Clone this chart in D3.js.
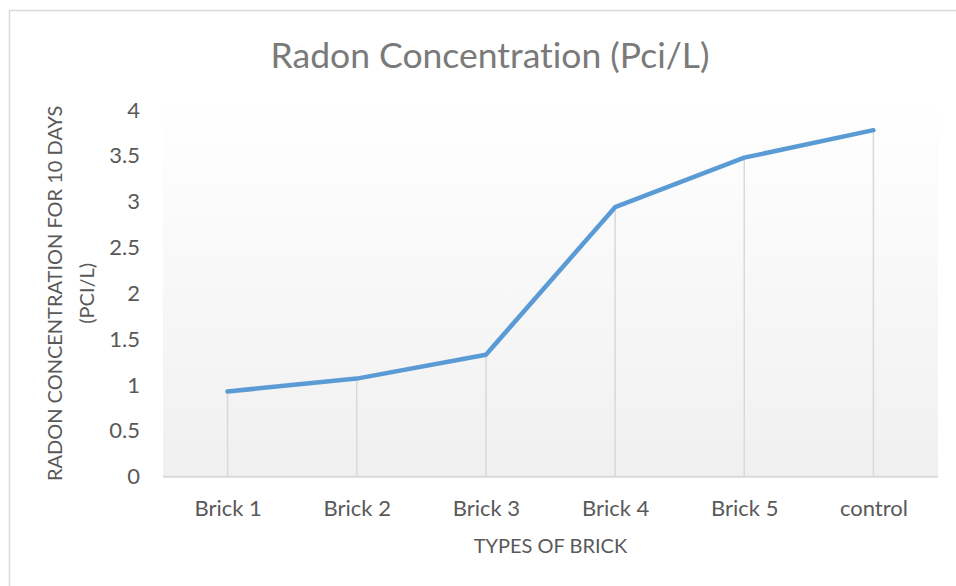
<html>
<head>
    <script src="https://d3js.org/d3.v7.min.js" charset="utf-8"></script>
    <style>
        body { margin: 0; background: #fff; }
        text { font-family: Lato, "Open Sans", sans-serif; font-variant-ligatures: none; }
    </style>
</head>

<body>
    <script type="text/javascript">
        var width = 956;
        var height = 586;

        // chart values
        var categories = ["Brick 1", "Brick 2", "Brick 3", "Brick 4", "Brick 5", "control"];
        var radonValues = [0.93, 1.07, 1.33, 2.94, 3.48, 3.78];
        var yTickValues = [0, 0.5, 1, 1.5, 2, 2.5, 3, 3.5, 4];

        var chartTitle = "Radon Concentration (Pci/L)";
        var xTitle = "TYPES OF BRICK";
        var yTitleLines = ["RADON CONCENTRATION FOR 10 DAYS", "(PCI/L)"];

        var plot = { left: 163, right: 938, top: 100, bottom: 477 };

        const svg = d3.select("body").append("svg")
            .attr("width", width)
            .attr("height", height);

        // plot area gradient
        var defs = svg.append("defs");
        var grad = defs.append("linearGradient")
            .attr("id", "plotGrad")
            .attr("x1", 0).attr("y1", 0)
            .attr("x2", 0).attr("y2", 1);
        grad.append("stop").attr("offset", "0%").attr("stop-color", "#ffffff");
        grad.append("stop").attr("offset", "100%").attr("stop-color", "#f0f0f0");

        // outer chart border (runs off the right and bottom edge)
        svg.append("rect")
            .attr("x", 9.5)
            .attr("y", 10.5)
            .attr("width", 1000)
            .attr("height", 700)
            .attr("fill", "#fff")
            .attr("stroke", "#d9d9d9")
            .attr("stroke-width", 1.5);

        var xScale = d3.scalePoint()
            .domain(categories)
            .range([plot.left, plot.right])
            .padding(0.5);

        var yScale = d3.scaleLinear()
            .domain([0, 4])
            .range([476.7, 110]);

        svg.append("rect")
            .attr("x", plot.left)
            .attr("y", plot.top)
            .attr("width", plot.right - plot.left)
            .attr("height", yScale(0) - plot.top)
            .attr("fill", "url(#plotGrad)");

        // drop lines
        svg.append("g")
            .selectAll("line")
            .data(categories)
            .join("line")
                .attr("x1", (d) => xScale(d))
                .attr("x2", (d) => xScale(d))
                .attr("y1", (d, i) => yScale(radonValues[i]))
                .attr("y2", yScale(0))
                .attr("stroke", "#d9d9d9")
                .attr("stroke-width", 1.5);

        // x axis
        var xAxis = svg.append("g")
            .attr("transform", "translate(0," + yScale(0) + ")")
            .call(d3.axisBottom(xScale).tickSize(0).tickPadding(0));
        xAxis.select(".domain")
            .attr("d", "M" + plot.left + ",0H" + plot.right)
            .attr("stroke", "#d9d9d9")
            .attr("stroke-width", 2);
        xAxis.selectAll("text")
            .attr("y", 39)
            .attr("dy", 0)
            .style("font-size", "22px")
            .attr("fill", "#595959");

        // y axis
        var yAxis = svg.append("g")
            .attr("transform", "translate(" + plot.left + ",0)")
            .call(d3.axisLeft(yScale).tickValues(yTickValues).tickSize(0).tickPadding(23).tickFormat(d3.format("")));
        yAxis.select(".domain").remove();
        yAxis.selectAll("text")
            .style("font-size", "22px")
            .attr("fill", "#595959");

        // series line
        var line = d3.line()
            .x((d, i) => xScale(categories[i]))
            .y((d) => yScale(d));

        svg.append("path")
            .datum(radonValues)
            .attr("d", line)
            .attr("fill", "none")
            .attr("stroke", "#5b9bd5")
            .attr("stroke-width", 4.5)
            .attr("stroke-linecap", "round")
            .attr("stroke-linejoin", "round");

        // titles
        svg.append("text")
            .attr("x", 490)
            .attr("y", 68)
            .attr("text-anchor", "middle")
            .style("font-size", "35.5px")
            .attr("fill", "#7a7a7a")
            .text(chartTitle);

        svg.append("text")
            .attr("x", (plot.left + plot.right) / 2)
            .attr("y", 553)
            .attr("text-anchor", "middle")
            .style("font-size", "20px")
            .attr("fill", "#595959")
            .text(xTitle);

        var yMid = (yScale(0) + yScale(4)) / 2;
        svg.append("g")
            .attr("transform", "translate(62," + yMid + ") rotate(-90)")
            .selectAll("text")
            .data(yTitleLines)
            .join("text")
                .attr("x", 0)
                .attr("y", (d, i) => i * 32)
                .attr("text-anchor", "middle")
                .style("font-size", "20px")
                .attr("fill", "#595959")
                .text((d) => d);
    </script>
</body>
</html>
